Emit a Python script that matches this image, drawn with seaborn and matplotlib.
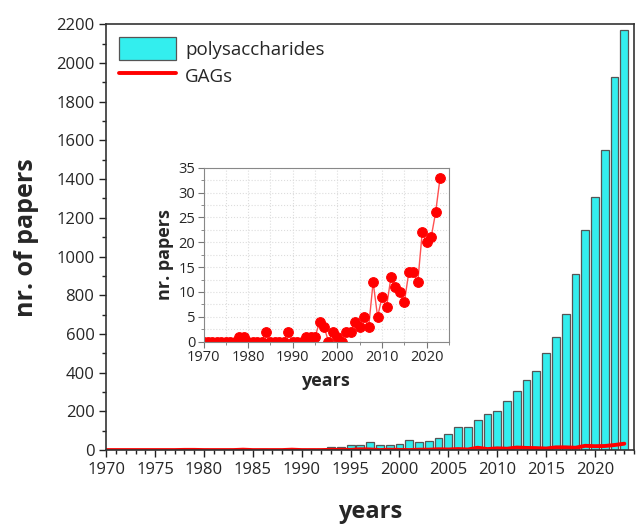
import numpy as np
import pandas as pd
import matplotlib
matplotlib.use('Agg')
import matplotlib.pyplot as plt
from matplotlib.ticker import MultipleLocator
import seaborn as sns

sns.set_style('ticks')
plt.rcParams['font.family'] = ['Open Sans', 'DejaVu Sans']

years = list(range(1970, 2024))

# polysaccharide papers per year
polysaccharides = [2, 1, 2, 1, 2, 1, 1, 2, 2, 1,
                   4, 2, 1, 5, 3, 2, 4, 2, 2, 3,
                   4, 5, 8, 14, 17, 24, 24, 40, 28, 28,
                   33, 50, 41, 45, 64, 85, 120, 119, 155, 187,
                   201, 253, 305, 361, 410, 503, 584, 702, 912, 1136,
                   1308, 1551, 1925, 2172]

# GAG papers per year
gags = [0, 0, 0, 0, 0, 0, 0, 0, 1, 1,
        0, 0, 0, 0, 2, 0, 0, 0, 0, 2,
        0, 0, 0, 1, 1, 1, 4, 3, 0, 2,
        1, 0, 2, 2, 4, 3, 5, 3, 12, 5,
        9, 7, 13, 11, 10, 8, 14, 14, 12, 22,
        20, 21, 26, 33]

df = pd.DataFrame({'year': years, 'poly': polysaccharides, 'gags': gags})

fig = plt.figure(figsize=(6.36, 5.27), dpi=100)
ax = fig.add_axes([0.167, 0.146, 0.83, 0.808])

sns.barplot(data=df, x='year', y='poly', native_scale=True, color='#33eeee',
            saturation=1, edgecolor='#555555', linewidth=0.9, width=0.8,
            label='polysaccharides', ax=ax)
sns.lineplot(data=df, x='year', y='gags', color='#ff0000', linewidth=2.8,
             label='GAGs', ax=ax)

ax.set_xlim(1970, 2024)
ax.set_ylim(0, 2200)
ax.xaxis.set_major_locator(MultipleLocator(5))
ax.xaxis.set_minor_locator(MultipleLocator(1))
ax.yaxis.set_major_locator(MultipleLocator(200))
ax.yaxis.set_minor_locator(MultipleLocator(100))
ax.tick_params(which='major', length=5, width=1, labelsize=12, color='#222222')
ax.tick_params(which='minor', length=3, width=1, color='#222222')
for s in ax.spines.values():
    s.set_color('#333333')
    s.set_linewidth(1.2)
ax.set_xlabel('years', fontsize=17, fontweight='bold', labelpad=16)
ax.set_ylabel('nr. of papers', fontsize=18, fontweight='bold', labelpad=12)

# bars first, then the line
h, l = ax.get_legend_handles_labels()
order = [l.index('polysaccharides'), l.index('GAGs')]
ax.legend([h[i] for i in order], [l[i] for i in order], loc='upper left',
          frameon=False, fontsize=13.5, handlelength=3.0, handleheight=1.5,
          borderaxespad=0.3, labelspacing=0.2, handletextpad=0.5)

# inset with the GAG papers only
ins = fig.add_axes([0.320, 0.3516, 0.386, 0.3302])
sns.lineplot(data=df, x='year', y='gags', color='#ff5050', linewidth=1,
             marker='o', markersize=7, markerfacecolor='#ff0000',
             markeredgecolor='#ff0000', ax=ins)
ins.set_xlim(1970, 2025)
ins.set_ylim(0, 35)
ins.xaxis.set_major_locator(MultipleLocator(10))
ins.xaxis.set_minor_locator(MultipleLocator(5))
ins.yaxis.set_major_locator(MultipleLocator(5))
ins.yaxis.set_minor_locator(MultipleLocator(2.5))
ins.grid(which='both', color='#dddddd', linestyle=':', linewidth=0.8)
ins.tick_params(which='major', length=4, labelsize=10.5, color='#777777', pad=2)
ins.tick_params(which='minor', length=2, color='#777777')
for s in ins.spines.values():
    s.set_color('#888888')
ins.set_xlabel('years', fontsize=13, fontweight='bold', labelpad=5)
ins.set_ylabel('nr. papers', fontsize=13, fontweight='bold', labelpad=3)

fig.savefig('out.png', dpi=100, facecolor='white')
